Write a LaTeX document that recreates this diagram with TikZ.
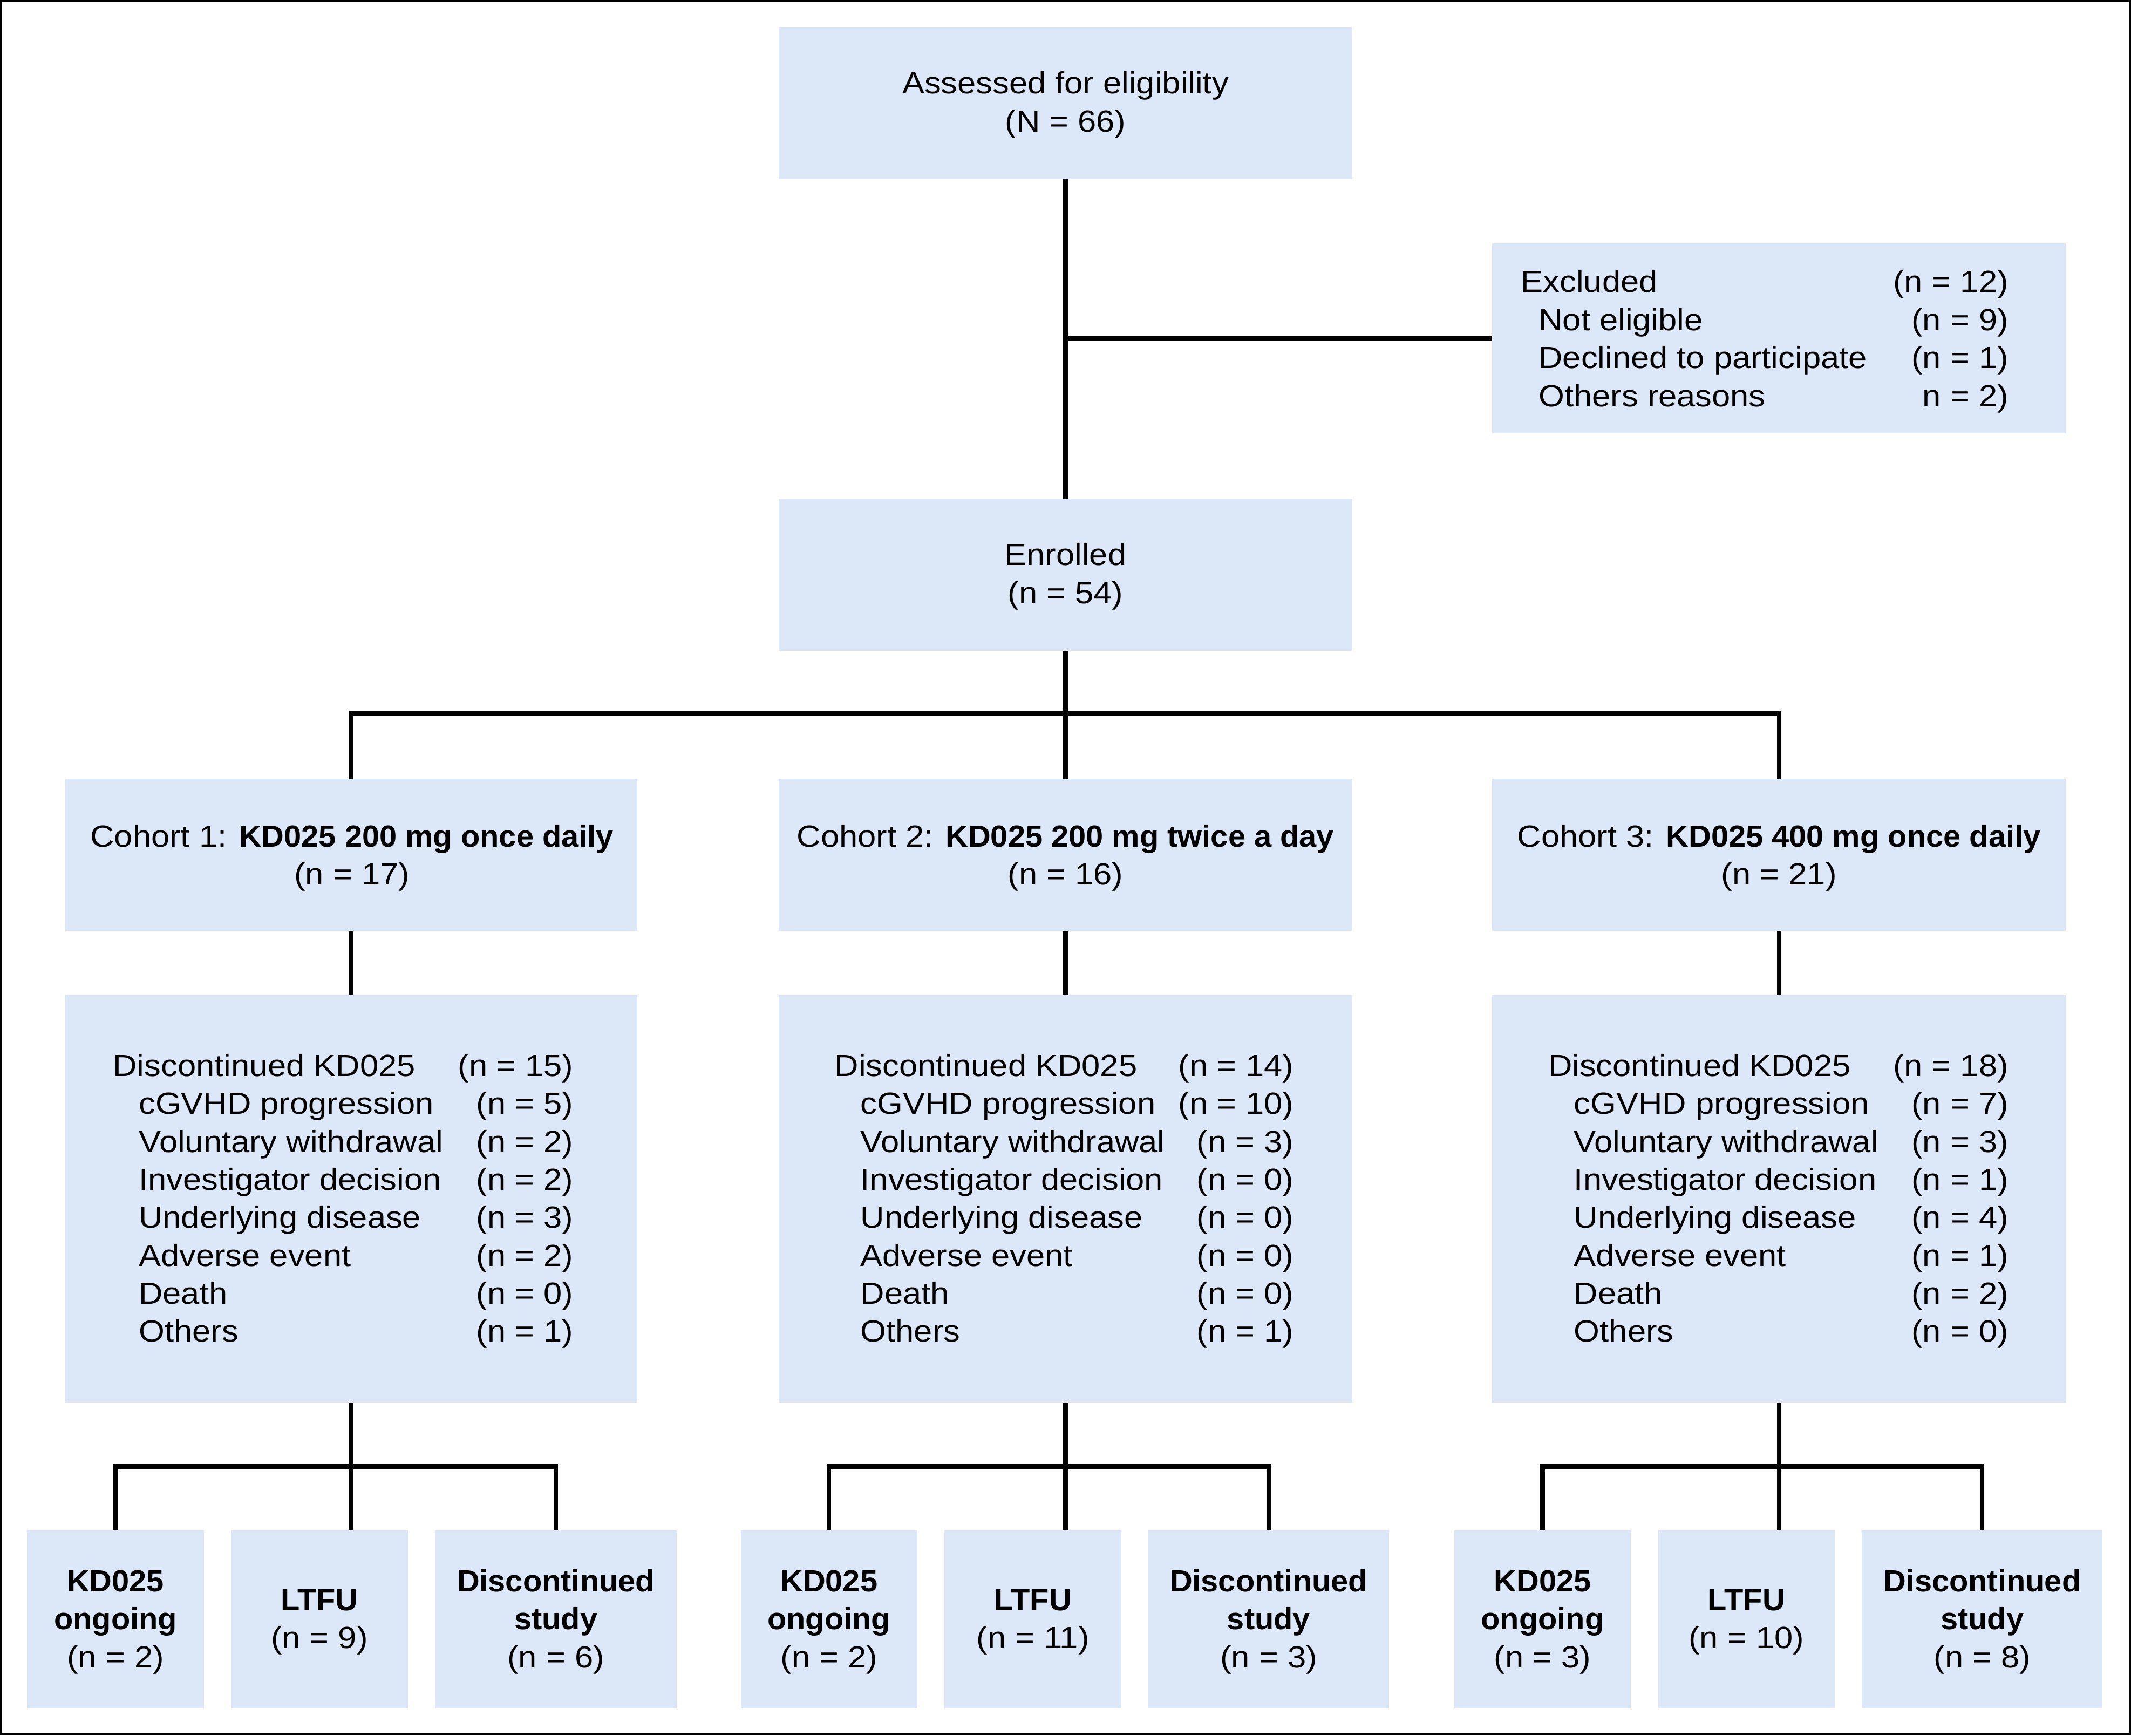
\documentclass[tikz,border=0pt]{standalone}
\usepackage{fontspec}
\setmainfont{Liberation Sans}[FakeStretch=1.085, BoldFeatures={FakeStretch=1.02}]
\definecolor{boxblue}{RGB}{220,231,248}
\newcommand\fs{\fontsize{22.5}{28}\selectfont}
\newcommand\bbox[5]{\node[box, minimum width=#4pt, minimum height=#5pt] (#1) at (#2,#3) {};}
\begin{document}
\begin{tikzpicture}[x=1pt,y=-1pt,
  box/.style={fill=boxblue, draw=none, inner sep=0pt, outer sep=0pt, anchor=north west},
  conn/.style={line width=3.3pt, line join=miter, line cap=butt},
  txt/.style={inner sep=0pt, anchor=base, font=\fs},
  txtl/.style={txt, anchor=base west},
  txtr/.style={txt, anchor=base east}]
\useasboundingbox (0,0) rectangle (1568,1277);
\fill[white] (0,0) rectangle (1568,1277);
\draw[line width=1.6pt] (0.8,0.8) rectangle (1567.2,1276.2);

% boxes
\bbox{top}{573}{20}{422}{112}
\bbox{excl}{1098}{179}{422}{140}
\bbox{enr}{573}{367}{422}{112}
\bbox{c1}{48}{573}{421}{112}
\bbox{c2}{573}{573}{422}{112}
\bbox{c3}{1098}{573}{422}{112}
\bbox{d1}{48}{732}{421}{300}
\bbox{d2}{573}{732}{422}{300}
\bbox{d3}{1098}{732}{422}{300}
\bbox{b11}{20}{1126}{130}{131}
\bbox{b12}{170}{1126}{130}{131}
\bbox{b13}{320}{1126}{178}{131}
\bbox{b21}{545}{1126}{130}{131}
\bbox{b22}{695}{1126}{130}{131}
\bbox{b23}{845}{1126}{177}{131}
\bbox{b31}{1070}{1126}{130}{131}
\bbox{b32}{1220}{1126}{130}{131}
\bbox{b33}{1370}{1126}{177}{131}

% connectors
\coordinate (j0) at (784,525);
\coordinate (k1) at (258.5,1079);
\coordinate (k2) at (784,1079);
\coordinate (k3) at (1309,1079);
\draw[conn] (top.south) -- (enr.north);
\draw[conn] (excl.west) -- (top.south |- excl.west);
\draw[conn] (enr.south) -- (j0);
\draw[conn] (c1.north) |- (j0) -| (c3.north);
\draw[conn] (j0) -- (c2.north);
\draw[conn] (c1.south) -- (d1.north);
\draw[conn] (c2.south) -- (d2.north);
\draw[conn] (c3.south) -- (d3.north);
\draw[conn] (d1.south) -- (k1);
\draw[conn] (b11.north) |- (k1) -| (b13.north);
\draw[conn] (k1) -- (k1 |- b12.north);
\draw[conn] (d2.south) -- (k2);
\draw[conn] (b21.north) |- (k2) -| (b23.north);
\draw[conn] (k2) -- (k2 |- b22.north);
\draw[conn] (d3.south) -- (k3);
\draw[conn] (b31.north) |- (k3) -| (b33.north);
\draw[conn] (k3) -- (k3 |- b32.north);

% texts: top
\node[txt] (ta) at (784,69) {Assessed for eligibility};
\node[txt] (tb) at (784,97) {(N = 66)};
% excluded
\node[txtl] (ea) at (1119,215) {Excluded};
\node[txtr] (ean) at (1478,215) {(n = 12)};
\node[txtl] (eb) at (1132,243) {Not eligible};
\node[txtr] (ebn) at (1478,243) {(n = 9)};
\node[txtl] (ec) at (1132,271) {Declined to participate};
\node[txtr] (ecn) at (1478,271) {(n = 1)};
\node[txtl] (ed) at (1132,299) {Others reasons};
\node[txtr] (edn) at (1478,299) {n = 2)};
% enrolled
\node[txt] (na) at (784,416) {Enrolled};
\node[txt] (nb) at (784,444) {(n = 54)};
% cohorts
\node[txt] (c1a) at (259,623) {Cohort 1: \textbf{KD025 200 mg once daily}};
\node[txt] (c1b) at (259,651) {(n = 17)};
\node[txt] (c2a) at (784,623) {Cohort 2: \textbf{KD025 200 mg twice a day}};
\node[txt] (c2b) at (784,651) {(n = 16)};
\node[txt] (c3a) at (1309,623) {Cohort 3: \textbf{KD025 400 mg once daily}};
\node[txt] (c3b) at (1309,651) {(n = 21)};
% discontinued lists
\foreach \c/\xl/\xr/\tot/\vals in {1/83/422/15/{5,2,2,3,2,0,1},2/614/952/14/{10,3,0,0,0,0,1},3/1139/1478/18/{7,3,1,4,1,2,0}}{
  \node[txtl] (h\c) at (\xl,792) {Discontinued KD025};
  \node[txtr] (ht\c) at (\xr,792) {(n = \tot)};
  \foreach \lab [count=\i] in {cGVHD progression,Voluntary withdrawal,Investigator decision,Underlying disease,Adverse event,Death,Others}{
    \node[txtl] (l\c-\i) at (\xl+19,792+27.9*\i) {\lab};
  }
  \foreach \v [count=\i] in \vals {
    \node[txtr] (v\c-\i) at (\xr,792+27.9*\i) {(n = \v)};
  }
}
% bottom boxes
\foreach \c/\xa/\xb/\xc/\na/\nb/\nc in {1/85/235/409/2/9/6,2/610/760/933.5/2/11/3,3/1135/1285/1458.5/3/10/8}{
  \node[txt] (o\c a) at (\xa,1171) {\textbf{KD025}};
  \node[txt] (o\c b) at (\xa,1199) {\textbf{ongoing}};
  \node[txt] (o\c c) at (\xa,1227) {(n = \na)};
  \node[txt] (f\c a) at (\xb,1185) {\textbf{LTFU}};
  \node[txt] (f\c b) at (\xb,1213) {(n = \nb)};
  \node[txt] (s\c a) at (\xc,1171) {\textbf{Discontinued}};
  \node[txt] (s\c b) at (\xc,1199) {\textbf{study}};
  \node[txt] (s\c c) at (\xc,1227) {(n = \nc)};
}
\end{tikzpicture}
\end{document}
